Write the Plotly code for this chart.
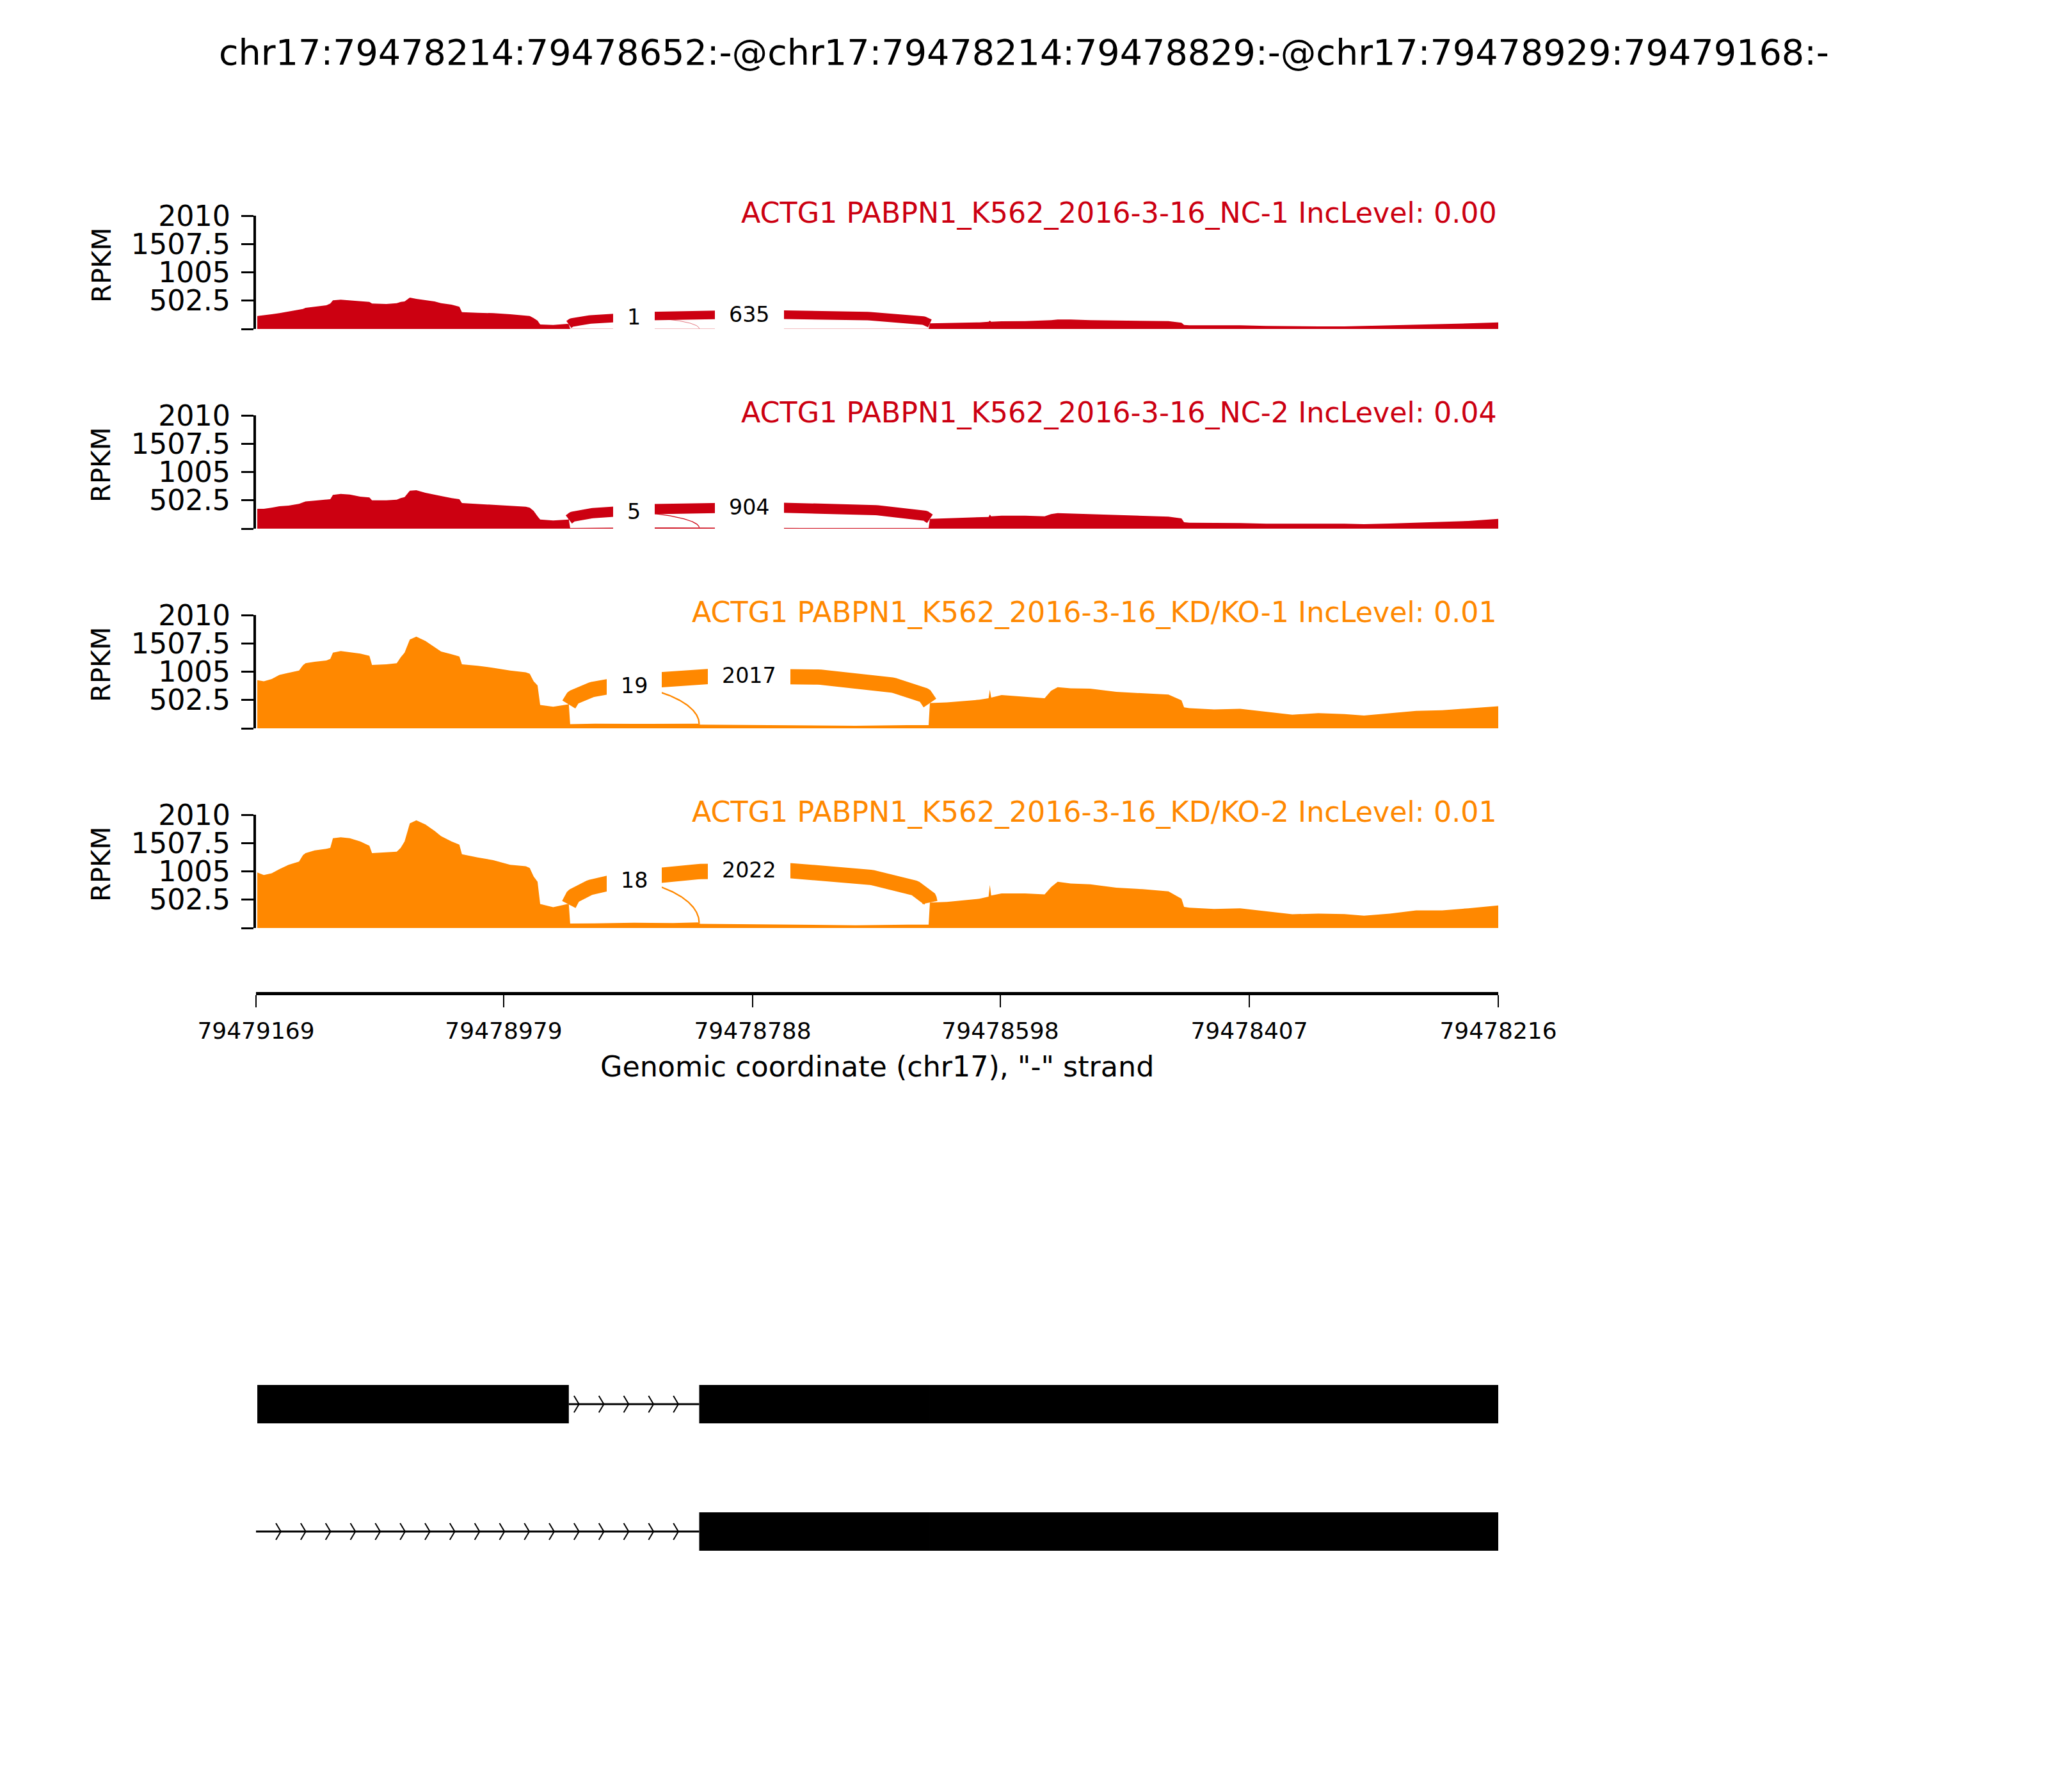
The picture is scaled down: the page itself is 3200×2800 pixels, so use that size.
import numpy as np
import plotly.graph_objects as go

FONT = "DejaVu Sans"
TITLE = "chr17:79478214:79478652:-@chr17:79478214:79478829:-@chr17:79478929:79479168:-"

sample_names = [
    "ACTG1 PABPN1_K562_2016-3-16_NC-1 IncLevel: 0.00",
    "ACTG1 PABPN1_K562_2016-3-16_NC-2 IncLevel: 0.04",
    "ACTG1 PABPN1_K562_2016-3-16_KD/KO-1 IncLevel: 0.01",
    "ACTG1 PABPN1_K562_2016-3-16_KD/KO-2 IncLevel: 0.01",
]
sample_colors = ["#CC0011", "#CC0011", "#FF8800", "#FF8800"]

# genomic positions of coverage samples (minus strand, plotted left -> right)
positions = [
    79479168, 79479163, 79479157, 79479151, 79479144, 79479136, 79479133, 79479131, 79479124, 79479115,
    79479112, 79479110, 79479104, 79479097, 79479089, 79479082, 79479080, 79479069, 79479061, 79479058,
    79479055, 79479051, 79479046, 79479039, 79479032, 79479027, 79479019, 79479013, 79479011, 79478999,
    79478987, 79478974, 79478962, 79478959, 79478956, 79478953, 79478951, 79478941, 79478930, 79478929,
    79478928, 79478909, 79478879, 79478849, 79478830, 79478828, 79478789, 79478749, 79478709, 79478669,
    79478653, 79478652, 79478639, 79478614, 79478607, 79478606, 79478605, 79478597, 79478579, 79478564,
    79478559, 79478554, 79478544, 79478529, 79478509, 79478489, 79478469, 79478459, 79478457, 79478453,
    79478434, 79478414, 79478394, 79478374, 79478354, 79478334, 79478319, 79478299, 79478279, 79478259,
    79478239, 79478216,
]

nc1_rpkm = [
    231, 242, 261, 280, 307, 337, 356, 375, 394, 420,
    450, 507, 519, 507, 488, 481, 450, 443, 458, 481,
    488, 556, 534, 507, 488, 458, 431, 394, 299, 288,
    280, 261, 242, 231, 193, 148, 79, 72, 91, 79,
    4, 4, 5, 5, 5, 4, 4, 3, 3, 3,
    3, 98, 102, 117, 129, 148, 129, 136, 140, 148,
    155, 167, 167, 155, 148, 148, 140, 110, 72, 64,
    64, 64, 53, 45, 45, 45, 53, 61, 72, 79,
    98, 117,
]
nc2_rpkm = [
    352, 352, 371, 397, 409, 439, 466, 484, 496, 515,
    522, 598, 617, 606, 568, 553, 503, 503, 515, 541,
    560, 674, 681, 636, 606, 579, 541, 522, 454, 439,
    420, 401, 390, 371, 314, 220, 163, 144, 163, 163,
    11, 15, 19, 19, 19, 11, 11, 11, 10, 10,
    11, 174, 182, 201, 208, 250, 220, 231, 231, 220,
    257, 276, 269, 257, 238, 227, 212, 182, 114, 106,
    106, 98, 87, 83, 87, 87, 79, 91, 106, 114,
    136, 174,
]
kd1_rpkm = [
    854, 836, 873, 949, 986, 1024, 1118, 1156, 1182, 1204,
    1231, 1344, 1370, 1351, 1325, 1287, 1125, 1137, 1156, 1261,
    1344, 1577, 1626, 1551, 1438, 1363, 1314, 1276, 1137, 1110,
    1073, 1024, 994, 967, 836, 760, 414, 384, 422, 422,
    75, 83, 79, 79, 83, 64, 60, 49, 45, 56,
    56, 448, 459, 508, 534, 685, 546, 591, 561, 534,
    666, 730, 711, 704, 647, 621, 598, 497, 373, 358,
    335, 346, 290, 241, 271, 252, 226, 271, 309, 320,
    354, 391,
]
kd2_rpkm = [
    985, 941, 971, 1046, 1122, 1178, 1291, 1329, 1378, 1404,
    1423, 1592, 1611, 1592, 1536, 1460, 1329, 1348, 1355, 1423,
    1536, 1856, 1912, 1837, 1724, 1630, 1536, 1479, 1310, 1253,
    1204, 1122, 1095, 1065, 915, 821, 425, 369, 425, 418,
    79, 83, 94, 87, 98, 75, 68, 56, 49, 60,
    60, 452, 463, 519, 557, 764, 576, 614, 614, 595,
    726, 821, 790, 775, 715, 689, 651, 519, 376, 361,
    339, 350, 294, 245, 256, 248, 218, 256, 312, 312,
    350, 399,
]
coverages = [nc1_rpkm, nc2_rpkm, kd1_rpkm, kd2_rpkm]

# splice junctions (donor, acceptor) and read counts per sample
junction_starts = [79478929, 79478929]
junction_ends = [79478829, 79478652]
nc1_junction_counts = [1, 635]
nc2_junction_counts = [5, 904]
kd1_junction_counts = [19, 2017]
kd2_junction_counts = [18, 2022]
junction_counts = [nc1_junction_counts, nc2_junction_counts, kd1_junction_counts, kd2_junction_counts]

ytick_values = [0, 502.5, 1005, 1507.5, 2010]
ytick_labels = ["", "502.5", "1005", "1507.5", "2010"]
xtick_labels = ["79479169", "79478979", "79478788", "79478598", "79478407", "79478216"]
x_axis_title = 'Genomic coordinate (chr17), "-" strand'
y_axis_title = "RPKM"

isoform_exons = [
    [(79478929, 79479168), (79478652, 79478829), (79478214, 79478652)],
    [(79478652, 79478829), (79478214, 79478652)],
]
isoform_introns = [
    [(79478829, 79478929)],
    [(79478829, 79479169)],
]

# ---------------- layout constants (pixels) ----------------
W, H = 3200, 2800
PLOT_L, PLOT_R = 400, 2341
PANEL_TOPS = [337, 649, 961, 1273]
PANEL_H = 177
XAXIS_Y = 1552
GENE_TOP, GENE_BOT = 2094.5, 2492.5
EXON_HALF = 0.1508
CHEV_HALF = 0.0653
N_ARROWS = 50
ARC_HEIGHT_FRAC = 0.4125
ARC_WIDTH_K = 0.53

X_LEFT = float(xtick_labels[0])
X_RIGHT = float(xtick_labels[-1])


def py(px):
    return 1 - px / H


xdom = [PLOT_L / W, PLOT_R / W]
fig = go.Figure()
annotations = []
layout = dict(
    width=W, height=H, margin=dict(l=0, r=0, t=0, b=0, pad=0, autoexpand=False),
    paper_bgcolor="white", plot_bgcolor="white",
    font=dict(family=FONT, color="black"),
    showlegend=False,
)

tpos = np.linspace(0, 1, 160)
for i in range(4):
    n = i + 1
    xa, ya = f"x{n}", f"y{n}"
    top = PANEL_TOPS[i]
    bot = top + PANEL_H
    cov = coverages[i]
    color = sample_colors[i]
    fig.add_trace(go.Scatter(
        x=positions, y=cov, mode="lines", line=dict(width=0, color=color),
        fill="tozeroy", fillcolor=color, xaxis=xa, yaxis=ya, hoverinfo="skip"))

    # junction arcs (cubic bezier above coverage)
    rev_pos = positions[::-1]
    rev_cov = cov[::-1]
    h = ARC_HEIGHT_FRAC * max(cov)
    for js, je, cnt in zip(junction_starts, junction_ends, junction_counts[i]):
        ld = float(np.interp(js, rev_pos, rev_cov))
        rd = float(np.interp(je, rev_pos, rev_cov))
        px_ = [js, js, je, je]
        py_ = [ld, ld + h, rd + h, rd]
        bx = ((1 - tpos) ** 3 * px_[0] + 3 * (1 - tpos) ** 2 * tpos * px_[1]
              + 3 * (1 - tpos) * tpos ** 2 * px_[2] + tpos ** 3 * px_[3])
        by = ((1 - tpos) ** 3 * py_[0] + 3 * (1 - tpos) ** 2 * tpos * py_[1]
              + 3 * (1 - tpos) * tpos ** 2 * py_[2] + tpos ** 3 * py_[3])
        fig.add_trace(go.Scatter(
            x=bx, y=by, mode="lines",
            line=dict(width=ARC_WIDTH_K * np.sqrt(cnt), color=color),
            xaxis=xa, yaxis=ya, hoverinfo="skip"))
        mx = 0.5 * (js + je)
        my = 0.125 * py_[0] + 0.375 * py_[1] + 0.375 * py_[2] + 0.125 * py_[3]
        annotations.append(dict(
            x=mx, y=my, xref=xa, yref=ya, text=str(cnt), showarrow=False,
            font=dict(size=33.3, color="black", family=FONT),
            bgcolor="white", borderpad=22, borderwidth=0,
            xanchor="center", yanchor="middle"))

    # sample label
    annotations.append(dict(
        x=X_RIGHT, y=ytick_values[-1], xref=xa, yref=ya, text=sample_names[i],
        showarrow=False, xanchor="right", yanchor="middle", yshift=4,
        font=dict(size=44.4, color=color, family=FONT)))
    # RPKM label
    annotations.append(dict(
        x=158 / W, y=py(top + 78), xref="paper", yref="paper", text=y_axis_title,
        showarrow=False, textangle=-90, xanchor="center", yanchor="middle",
        font=dict(size=41.7, color="black", family=FONT)))

    xaxis = dict(domain=xdom, range=[X_LEFT, X_RIGHT], showgrid=False, zeroline=False,
                 automargin=False)
    if n < 4:
        xaxis.update(visible=False, anchor=ya)
    else:
        xaxis.update(
            anchor="free", position=py(XAXIS_Y), showline=True, linecolor="black", linewidth=5,
            ticks="outside", ticklen=19, tickwidth=2, tickcolor="black",
            tickvals=[float(t) for t in xtick_labels], ticktext=xtick_labels,
            tickfont=dict(size=36, family=FONT, color="black"), ticklabelstandoff=6)
    layout[f"xaxis{n}" if n > 1 else "xaxis"] = xaxis
    layout[f"yaxis{n}" if n > 1 else "yaxis"] = dict(
        domain=[py(bot), py(top)], range=[0, ytick_values[-1]], anchor=xa,
        showgrid=False, zeroline=False, showline=True, linecolor="black", linewidth=4,
        ticks="outside", ticklen=19, tickwidth=3, tickcolor="black",
        tickvals=ytick_values, ticktext=ytick_labels, automargin=False,
        tickfont=dict(size=44.4, family=FONT, color="black"), ticklabelstandoff=8)

# x axis title
annotations.append(dict(
    x=0.5 * (xdom[0] + xdom[1]), y=py(1667), xref="paper", yref="paper", text=x_axis_title,
    showarrow=False, xanchor="center", yanchor="middle",
    font=dict(size=44.4, color="black", family=FONT)))
# main title
annotations.append(dict(
    x=0.5, y=py(82), xref="paper", yref="paper", text=TITLE, showarrow=False,
    xanchor="center", yanchor="middle", font=dict(size=55.6, color="black", family=FONT)))

# ---------------- gene structure track ----------------
layout["xaxis5"] = dict(domain=xdom, range=[X_LEFT, X_RIGHT], visible=False, anchor="y5",
                        automargin=False)
layout["yaxis5"] = dict(domain=[py(GENE_BOT), py(GENE_TOP)], range=[-1.5, 0.5], visible=False,
                        anchor="x5", automargin=False)

shapes = []
span = X_LEFT - X_RIGHT
spread = 0.2 * span / N_ARROWS
chev_x, chev_y = [], []
for r, (exons, introns) in enumerate(zip(isoform_exons, isoform_introns)):
    yc = -r
    for lo, hi in introns:
        shapes.append(dict(type="line", xref="x5", yref="y5", x0=max(lo, X_RIGHT), x1=min(hi, X_LEFT),
                           y0=yc, y1=yc, line=dict(color="black", width=3), layer="below"))
        for k in range(N_ARROWS):
            tip = X_LEFT - k * span / N_ARROWS
            arm = tip + spread
            if tip >= lo and arm <= hi:
                chev_x += [arm, tip, arm, None]
                chev_y += [yc - CHEV_HALF, yc, yc + CHEV_HALF, None]
    for lo, hi in exons:
        shapes.append(dict(type="rect", xref="x5", yref="y5", x0=lo, x1=hi,
                           y0=yc - EXON_HALF, y1=yc + EXON_HALF,
                           fillcolor="black", line=dict(width=0), layer="above"))

fig.add_trace(go.Scatter(x=chev_x, y=chev_y, mode="lines", line=dict(color="black", width=2),
                         xaxis="x5", yaxis="y5", hoverinfo="skip"))

layout["annotations"] = annotations
layout["shapes"] = shapes
fig.update_layout(**layout)

fig.write_html("out.html", config={"displayModeBar": False},
               post_script="document.body.style.margin='0';")
